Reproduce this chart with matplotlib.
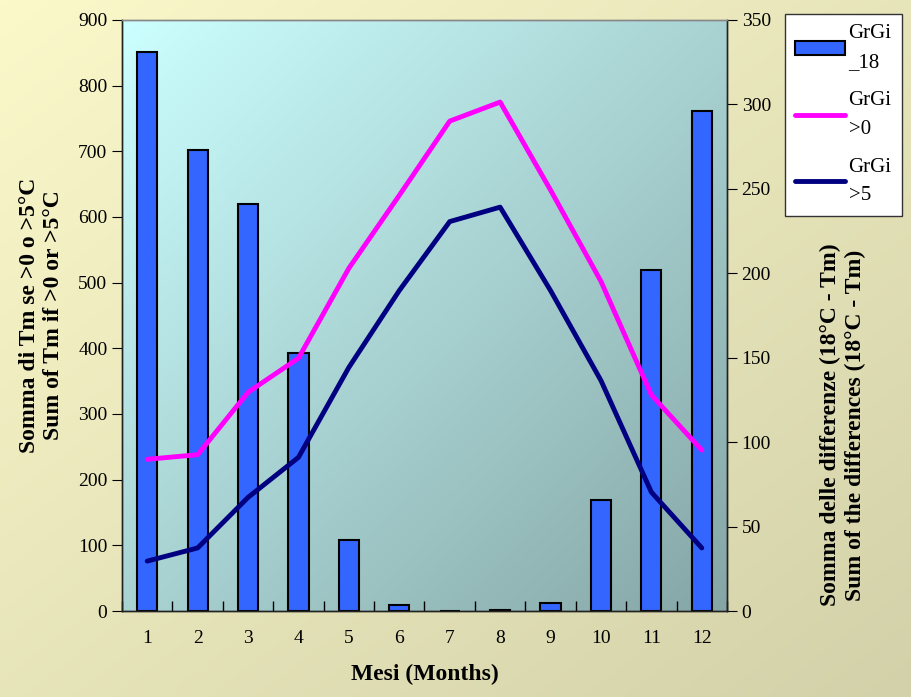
import numpy as np
import matplotlib
matplotlib.use("Agg")
import matplotlib.pyplot as plt
from matplotlib.colors import LinearSegmentedColormap

months = list(range(1, 13))
# GrGi_18 (right axis), GrGi >0 and >5 (left axis)
grgi_18 = [331, 273, 241, 153, 42, 3.5, 0, 0.6, 5, 66, 202, 296]
grgi_0 = [231, 238, 333, 385, 522, 633, 746, 775, 641, 502, 329, 245]
grgi_5 = [76, 96, 173, 234, 371, 488, 593, 615, 488, 351, 181, 96]

plt.rcParams['font.family'] = ['Liberation Serif', 'DejaVu Serif']

fig = plt.figure(figsize=(9.12, 6.97), dpi=100)

# figure background gradient
bg = fig.add_axes([0, 0, 1, 1], zorder=-10)
xx, yy = np.meshgrid(np.linspace(0, 1, 200), np.linspace(0, 1, 200))
t = (xx + yy) / 2
cm_fig = LinearSegmentedColormap.from_list('f', ['#FBF8CA', '#D3D1A9'])
bg.imshow(t, cmap=cm_fig, extent=[0, 1, 0, 1], aspect='auto', origin='upper')
bg.axis('off')

W, H = 912, 697
ax = fig.add_axes([122 / W, 1 - 611 / H, 605 / W, 591 / H])
cm_ax = LinearSegmentedColormap.from_list('a', ['#CCFFFF', '#86A6A6'])
ax.imshow(t, cmap=cm_ax, extent=[0.5, 12.5, 0, 350], aspect='auto',
          origin='upper', zorder=0)

ax.bar(months, grgi_18, width=0.4, color='#3366FF', edgecolor='black',
       linewidth=1.5, zorder=2, label='GrGi\n_18')
ax.set_xlim(0.5, 12.5)
ax.set_ylim(0, 350)
ax.set_yticks(range(0, 351, 50))

ax2 = ax.twinx()
ax2.plot(months, grgi_0, color='#FF00FF', lw=3.5, label='GrGi\n>0',
         solid_capstyle='round')
ax2.plot(months, grgi_5, color='#000080', lw=3.5, label='GrGi\n>5',
         solid_capstyle='round')
ax2.set_ylim(0, 900)
ax2.set_yticks(range(0, 901, 100))
ax2.patch.set_visible(False)

# swap sides: bars on the right scale, lines on the left scale
ax.yaxis.tick_right()
ax2.yaxis.tick_left()
ax2.yaxis.set_label_position('left')

ax.set_xticks(months)
ax.set_xticks(np.arange(0.5, 12.6, 1), minor=True)
ax.tick_params(axis='x', which='major', length=0, pad=14, labelsize=14)
ax.tick_params(axis='x', which='minor', length=7, direction='in', width=1)
ax.tick_params(axis='y', length=7, direction='out', labelsize=14)
ax2.tick_params(axis='y', length=7, direction='out', labelsize=14)

for a in (ax, ax2):
    for s in a.spines.values():
        s.set_color('#222222')
        s.set_linewidth(1.0)
    a.spines['top'].set_color('#888888')

ax.set_xlabel('Mesi (Months)', fontsize=17, fontweight='bold', labelpad=12)
ax2.set_ylabel('Somma di Tm se >0 o >5°C\nSum of Tm if >0 or >5°C',
               fontsize=17, fontweight='bold', labelpad=10)
fig.text(843 / W, 1 - 425 / H,
         'Somma delle differenze (18°C - Tm)\nSum of the differences (18°C - Tm)',
         fontsize=17, fontweight='bold', rotation=90, ha='center', va='center',
         multialignment='center')

h1, l1 = ax.get_legend_handles_labels()
h2, l2 = ax2.get_legend_handles_labels()
leg = fig.legend(h1 + h2, l1 + l2, loc='upper left',
                 bbox_to_anchor=(785 / W, 1 - 14 / H), fontsize=15,
                 frameon=True, fancybox=False, edgecolor='#333333',
                 facecolor='white', framealpha=1,
                 handlelength=2.4, labelspacing=0.9, handletextpad=0.15,
                 borderpad=0.5, borderaxespad=0)
leg.get_frame().set_linewidth(1.0)
for txt in leg.get_texts():
    txt.set_linespacing(1.7)

fig.savefig('out.png', dpi=100)
